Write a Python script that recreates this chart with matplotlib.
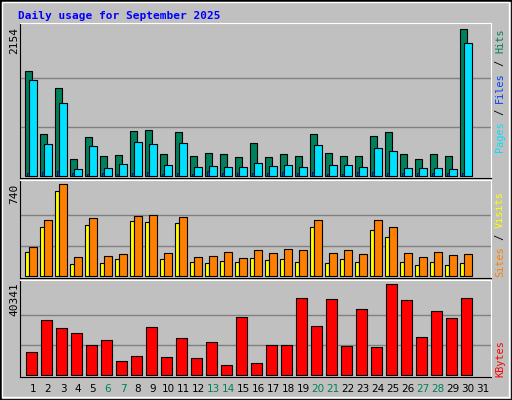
import matplotlib
matplotlib.use("Agg")
import matplotlib.pyplot as plt
import numpy as np
from matplotlib.patches import Rectangle

days = list(range(1, 32))
hits = [1549, 611, 1285, 244, 567, 288, 303, 655, 669, 318, 640, 288, 332, 318, 274,
        479, 274, 318, 288, 611, 332, 288, 288, 581, 640, 318, 244, 318, 288, 2154, 0]
files = [1416, 464, 1079, 98, 435, 112, 171, 493, 464, 156, 479, 127, 142, 127, 127,
         186, 142, 156, 127, 449, 156, 156, 127, 405, 362, 112, 112, 112, 98, 1958, 0]
pages = [44, 59, 74, 44, 30, 44, 30, 44, 59, 30, 44, 30, 74, 44, 44,
         44, 44, 59, 44, 59, 30, 30, 59, 59, 44, 44, 44, 44, 44, 44, 0]
sites = [193, 394, 683, 96, 410, 105, 137, 442, 434, 137, 426, 113, 105, 121, 113,
         145, 129, 137, 113, 394, 105, 137, 113, 370, 314, 113, 88, 113, 88, 105, 0]
visits = [236, 450, 740, 153, 466, 161, 177, 482, 490, 185, 474, 153, 161, 193, 145,
          209, 185, 217, 209, 450, 185, 209, 177, 450, 394, 185, 153, 193, 169, 177, 0]
kbytes = [10198, 24387, 20840, 18623, 13302, 15519, 6208, 8425, 21283, 7981, 16406, 7538,
          14632, 4434, 25717, 5321, 13302, 13302, 34142, 21727, 33698, 12859, 29264, 12415,
          40341, 33255, 16849, 28378, 25274, 34142, 0]
weekend = [6, 7, 13, 14, 20, 21, 27, 28]
title = "Daily usage for September 2025"

W, H = 512, 400
fig = plt.figure(figsize=(W/100, H/100), dpi=100)
fig.patch.set_facecolor("#C0C0C0")
mono = "DejaVu Sans Mono"

def fx(px): return px / W
def fy(py): return 1 - py / H

fig.add_artist(Rectangle((0, 0), 1, 1, transform=fig.transFigure, fill=False, ec="black", lw=2))
fig.add_artist(Rectangle((fx(2), fy(397)), fx(507), 395/H, transform=fig.transFigure, fill=False, ec="white", lw=1))

xl, xr = 20, 491
xmin = 1 - (33 - xl) / 15
xmax = 1 + (xr - 33) / 15
d = np.array(days)

def panel(top, base, bottom, vmax, vtop):
    ax = fig.add_axes([fx(xl), fy(bottom), fx(xr - xl), (bottom - top)/H])
    ax.set_facecolor("#C0C0C0")
    scale = vmax / (base - vtop)
    ax.set_ylim(-(bottom - base) * scale, (base - top) * scale)
    ax.set_xlim(xmin, xmax)
    ax.set_xticks([]); ax.set_yticks([])
    for g in (vmax/3, 2*vmax/3):
        ax.axhline(g, color="#808080", lw=1, zorder=0)
    for s in ("left", "bottom"):
        ax.spines[s].set_color("black")
    for s in ("top", "right"):
        ax.spines[s].set_color("white")
    return ax

def bars(ax, vals, off, w, color, lw=0.8):
    v = np.array(vals)
    m = v > 0
    ax.bar(d[m] + off, v[m], width=w, align="edge", color=color, ec="black", lw=lw)

ax1 = panel(23, 176, 178, 2154, 29.3)
bars(ax1, hits, -0.51, 0.46, "#00805C")
bars(ax1, files, -0.25, 0.49, "#00E0FF")
bars(ax1, pages, -0.38, 0.13, "#0040FF", 0.5)

ax2 = panel(180, 276.3, 278, 740, 184.3)
bars(ax2, sites, -0.51, 0.26, "#FFFF00")
bars(ax2, visits, -0.25, 0.49, "#FF8000")

ax3 = panel(280, 375.3, 377, 40341, 284.3)
bars(ax3, kbytes, -0.45, 0.69, "#FF0000")

fig.text(fx(18), fy(16), title, color="#0000FF", fontsize=8, fontweight="bold",
         family=mono, va="center", ha="left")

for txt, ytop in (("2154", 27), ("740", 184), ("40341", 282)):
    fig.text(fx(14), fy(ytop), txt, rotation=90, fontsize=8, family=mono,
             va="top", ha="center", color="black")

def rlabel(parts, ybottom, fs=7.4):
    cw = 0.602 * fs * 100 / 72
    y = ybottom
    for t, c in parts:
        fig.text(fx(500), fy(y), t, rotation=90, fontsize=fs, family=mono,
                 color=c, va="bottom", ha="center")
        y -= cw * len(t)

rlabel([("Pages", "#00E0FF"), (" / ", "#000000"), ("Files", "#0040FF"), (" / ", "#000000"), ("Hits", "#00805C")], 152)
rlabel([("Sites", "#FF8000"), (" / ", "#000000"), ("Visits", "#FFFF00")], 277)
rlabel([("KBytes", "#FF0000")], 377)

for day in days:
    c = "#00805C" if day in weekend else "black"
    fig.text(fx(33 + 15 * (day - 1)), fy(389), str(day), fontsize=7.5,
             ha="center", va="center", color=c)

fig.savefig("out.png", dpi=100, facecolor=fig.get_facecolor())
